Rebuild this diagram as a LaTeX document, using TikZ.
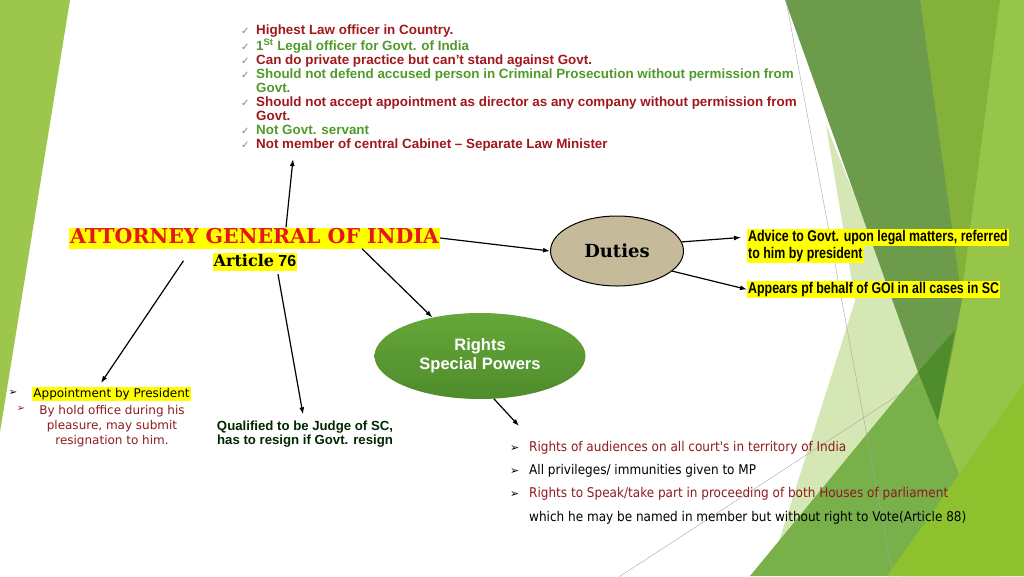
\documentclass[tikz,border=0pt]{standalone}
\usepackage{fontspec}
\setmainfont{Liberation Sans}
\newfontfamily\serifbold{DejaVu Serif}
\newfontfamily\narrowfont{Liberation Sans}[FakeStretch=0.8]
\newfontfamily\verdfont{DejaVu Sans}
\newfontfamily\tahfont{DejaVu Sans Condensed}
\usepackage{tikz}
\usetikzlibrary{shapes.geometric, arrows.meta}
\tikzset{>={Latex[length=7pt,width=5pt]}}
\definecolor{bgleft}{HTML}{9DC74C}
\definecolor{bgbase}{HTML}{97C549}
\definecolor{bgmid}{HTML}{84B13A}
\definecolor{bgdark}{HTML}{6C9B4B}
\definecolor{bgdeep}{HTML}{4F8C2B}
\definecolor{bgpale}{HTML}{D5E7B5}
\definecolor{bggreen}{HTML}{78B04A}
\definecolor{bglime}{HTML}{8DC12E}
\definecolor{agred}{HTML}{A0171C}
\definecolor{aggreen}{HTML}{4F9A28}
\definecolor{titlered}{HTML}{E5151B}
\definecolor{hlyellow}{HTML}{FFFF00}
\definecolor{brownred}{HTML}{8E1B1E}
\definecolor{chkgray}{HTML}{7F7F7F}
\definecolor{dutytan}{HTML}{C5BB9A}
\definecolor{rightstop}{HTML}{66A739}
\definecolor{rightsbot}{HTML}{4E8C2A}
\newcommand{\chk}{\makebox[15pt][l]{\verdfont\mdseries\fontsize{10}{10}\selectfont\color{chkgray}✓}}
\newcommand{\bulr}[1]{\makebox[19pt][l]{\verdfont\fontsize{11}{11}\selectfont\color{#1}➢}}
\tikzset{
  hl/.style={fill=hlyellow, inner xsep=1pt, inner ysep=1pt},
  link/.style={->, line width=1.2pt},
}

\begin{document}
\begin{tikzpicture}[x=1pt, y=-1pt]
    \useasboundingbox (0,0) rectangle (1024,576);
    % background facets
    \fill[bgleft](0,0)--(70,0)--(0,432)--cycle;
    \fill[bgbase](920,0)--(1024,0)--(1024,576)--(900,576)--cycle;
    \fill[bgpale](906,140)--(935,400)--(768,576)--cycle;
    \fill[bgpale](826,125)--(905,320)--(855,300)--cycle;
    \fill[bgmid](918,0)--(1000,0)--(957,330)--(937,425)--cycle;
    \fill[bgdark](785,0)--(920,0)--(962,300)--(937,425)--cycle;
    \fill[bgdeep](918,372)--(955,330)--(937,425)--cycle;
    \fill[bggreen](750,576)--(918,372)--(1000,576)--cycle;
    \fill[bglime](887,576)--(1024,383)--(1024,576)--cycle;
    \draw[gray!70, line width=.4pt](786,0)--(893,576);
    \draw[gray!70, line width=.4pt](605,586)--(920,381);

    % centre
    \node[hl, text=titlered, font=\serifbold\bfseries\fontsize{20.5}{20}\selectfont, text height=15pt, text depth=4pt](title) at (254.5,238){ATTORNEY GENERAL OF INDIA};
    \node[hl, font=\fontsize{16}{16}\selectfont, text height=12pt, text depth=4pt](art) at (255,262){{\serifbold\bfseries Article} \textbf{76}};

    % qualities
    \node[anchor=north west, align=left, inner sep=0, font=\bfseries\fontsize{13.4}{14}\selectfont](quals) at (241,25){%
        \chk\textcolor{agred}{Highest Law officer in Country.}\\
        \chk\textcolor{aggreen}{1\textsuperscript{St} Legal officer for Govt. of India}\\
        \chk\textcolor{agred}{Can do private practice but can't stand against Govt.}\\
        \chk\textcolor{aggreen}{Should not defend accused person in Criminal Prosecution without permission from}\\
        \hspace*{15pt}\textcolor{aggreen}{Govt.}\\
        \chk\textcolor{agred}{Should not accept appointment as director as any company without permission from}\\
        \hspace*{15pt}\textcolor{agred}{Govt.}\\
        \chk\textcolor{aggreen}{Not Govt. servant}\\
        \chk\textcolor{agred}{Not member of central Cabinet -- Separate Law Minister}};
    \coordinate (qtip) at (293,159);

    % duties
    \node[ellipse, draw, line width=1pt, fill=dutytan, minimum width=133pt, minimum height=70pt, inner sep=0, font=\serifbold\bfseries\fontsize{18}{18}\selectfont](duties) at (617,251){Duties};
    \node[hl, anchor=north west, font=\narrowfont\bfseries\fontsize{15.5}{15.5}\selectfont](adv1) at (747,229){Advice to Govt. upon legal matters, referred};
    \node[hl, anchor=north west, font=\narrowfont\bfseries\fontsize{15.5}{15.5}\selectfont](adv2) at (747,246){to him by president};
    \node[hl, anchor=north west, font=\narrowfont\bfseries\fontsize{15.5}{15.5}\selectfont](appr) at (747,281){Appears pf behalf of GOI in all cases in SC};

    % rights
    \node[ellipse, top color=rightstop, bottom color=rightsbot, minimum width=211pt, minimum height=86pt, inner sep=0, align=center, text=white, font=\bfseries\fontsize{16.5}{19}\selectfont](rights) at (480,356){Rights\\Special Powers};
    \node[anchor=north west, align=left, inner sep=0, font=\tahfont\fontsize{13.4}{23.3}\selectfont](rlist) at (510,441){%
        \bulr{black}\textcolor{brownred}{Rights of audiences on all court's in territory of India}\\
        \bulr{black}All privileges/ immunities given to MP\\
        \bulr{black}\textcolor{brownred}{Rights to Speak/take part in proceeding of both Houses of parliament}\\
        \hspace*{19pt}which he may be named in member but without right to Vote(Article 88)};

    % appointment
    \node[hl, font=\verdfont\fontsize{12}{12}\selectfont](appt) at (111.5,394){Appointment by President};
    \node[inner sep=0, font=\verdfont\fontsize{10}{10}\selectfont](b1) at (13,393){➢};
    \node[inner sep=0, text=brownred, font=\verdfont\fontsize{10}{10}\selectfont](b2) at (21,409){➢};
    \node[align=center, inner sep=0, text=brownred, font=\verdfont\fontsize{12}{15}\selectfont](hold) at (112,426){By hold office during his\\pleasure, may submit\\resignation to him.};

    % qualification
    \node[align=center, inner sep=0, text=black!85!green, font=\bfseries\fontsize{13.2}{14.5}\selectfont](qual) at (305,434){Qualified to be Judge of SC,\\has to resign if Govt. resign};

    % connectors
    \draw[link]([xshift=31.5pt]title.north)--(qtip);
    \draw[link](title.east)--(duties.west);
    \draw[link]([xshift=107.5pt]title.south)--(rights.141);
    \draw[link]([xshift=-71pt,yshift=-12pt]title.south)--([xshift=-10.5pt,yshift=4pt]appt.north);
    \draw[link]([xshift=23pt,yshift=-3pt]art.south)--([xshift=-2pt,yshift=6pt]qual.north);
    \draw[link](duties.8)--([xshift=-6pt]adv1.west);
    \draw[link](duties.-20)--(appr.west);
    \draw[link](rights.-72)--([xshift=9pt,yshift=15pt]rlist.north west);
\end{tikzpicture}
\end{document}
